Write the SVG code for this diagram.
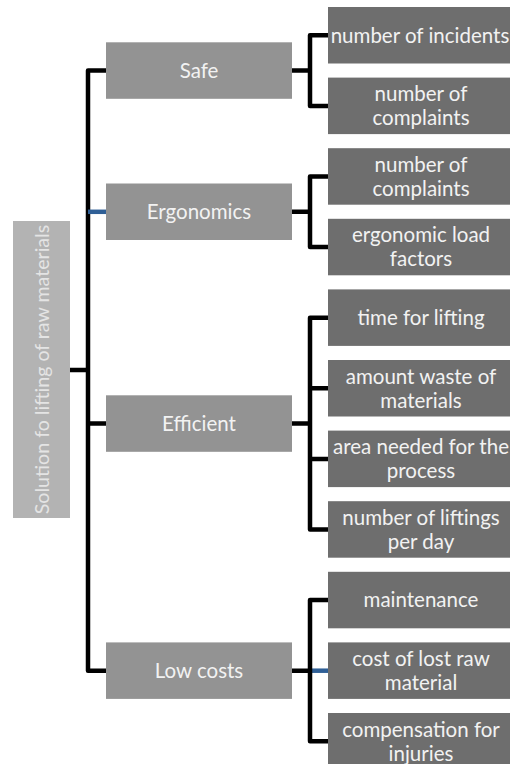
<svg xmlns="http://www.w3.org/2000/svg" width="510" height="764" viewBox="0 0 510 764">
  <style>
    .root { fill: #b3b3b3; }
    .cat { fill: #939393; }
    .leaf { fill: #6e6e6e; }
    text { font-family: Lato, "Noto Sans", "Liberation Sans", sans-serif; font-size: 20.5px; fill: #f2f2f2; text-anchor: middle; }
    .rootlabel { fill: #e4e4e4; font-size: 19.6px; }
    .wire { fill: none; stroke: #000; stroke-width: 4.5; stroke-linejoin: round; stroke-linecap: butt; }
    .wire-hi { fill: none; stroke: #2f5f96; stroke-width: 4.5; }
  </style>
  <rect width="510" height="764" fill="#fff"/>

  <!-- connectors -->
  <g id="connectors">
    <path class="wire" d="M106,70.5 H88 V670.7 H106 M70,370 H88 M88,423.6 H106"/>
    <path class="wire-hi" d="M88,211.8 H106"/>
    <path class="wire" d="M292,70.5 H310 M328,35.3 H310 V105.9 H328"/>
    <path class="wire" d="M292,211.8 H310 M328,176.5 H310 V247.1 H328"/>
    <path class="wire" d="M292,423.6 H310 M328,317.7 H310 V529.5 H328 M310,388.3 H328 M310,458.9 H328"/>
    <path class="wire-hi" d="M310,670.7 H328"/>
    <path class="wire" d="M292,670.7 H310 M328,600.1 H310 V741.3 H328"/>
  </g>

  <!-- root -->
  <g id="root">
    <rect class="root" x="13" y="221" width="57" height="297"/>
    <text class="rootlabel" transform="translate(48.5,369.5) rotate(-90)">Solution fo lifting of raw materials</text>
  </g>

  <!-- categories -->
  <g id="safe">
    <rect class="cat" x="106" y="42.3" width="186" height="56.5"/>
    <text x="199" y="77.7">Safe</text>
  </g>
  <g id="ergonomics">
    <rect class="cat" x="106" y="183.5" width="186" height="56.5"/>
    <text x="199" y="219">Ergonomics</text>
  </g>
  <g id="efficient">
    <rect class="cat" x="106" y="395.3" width="186" height="56.5"/>
    <text x="199" y="430.8">Efficient</text>
  </g>
  <g id="low-costs">
    <rect class="cat" x="106" y="642.4" width="186" height="56.5"/>
    <text x="199" y="677.9">Low costs</text>
  </g>

  <!-- indicators -->
  <g id="incidents">
    <rect class="leaf" x="328" y="7" width="186" height="56.5"/>
    <text x="420" y="42.5">number of incidents</text>
  </g>
  <g id="complaints-safe">
    <rect class="leaf" x="328" y="77.6" width="186" height="56.5"/>
    <text x="421" y="101.1">number of</text>
    <text x="421" y="125.1">complaints</text>
  </g>
  <g id="complaints-ergo">
    <rect class="leaf" x="328" y="148.2" width="186" height="56.5"/>
    <text x="421" y="171.7">number of</text>
    <text x="421" y="195.7">complaints</text>
  </g>
  <g id="load-factors">
    <rect class="leaf" x="328" y="218.8" width="186" height="56.5"/>
    <text x="421" y="242.3">ergonomic load</text>
    <text x="421" y="266.3">factors</text>
  </g>
  <g id="lifting-time">
    <rect class="leaf" x="328" y="289.4" width="186" height="56.5"/>
    <text x="421" y="324.9">time for lifting</text>
  </g>
  <g id="waste">
    <rect class="leaf" x="328" y="360" width="186" height="56.5"/>
    <text x="421" y="383.5">amount waste of</text>
    <text x="421" y="407.5">materials</text>
  </g>
  <g id="area">
    <rect class="leaf" x="328" y="430.6" width="186" height="56.5"/>
    <text x="421" y="454.1">area needed for the</text>
    <text x="421" y="478.1">process</text>
  </g>
  <g id="liftings">
    <rect class="leaf" x="328" y="501.2" width="186" height="56.5"/>
    <text x="421" y="524.7">number of liftings</text>
    <text x="421" y="548.7">per day</text>
  </g>
  <g id="maintenance">
    <rect class="leaf" x="328" y="571.8" width="186" height="56.5"/>
    <text x="421" y="607.3">maintenance</text>
  </g>
  <g id="lost-material">
    <rect class="leaf" x="328" y="642.4" width="186" height="56.5"/>
    <text x="421" y="665.9">cost of lost raw</text>
    <text x="421" y="689.9">material</text>
  </g>
  <g id="compensation">
    <rect class="leaf" x="328" y="713" width="186" height="56.5"/>
    <text x="421" y="736.5">compensation for</text>
    <text x="421" y="760.5">injuries</text>
  </g>
</svg>
